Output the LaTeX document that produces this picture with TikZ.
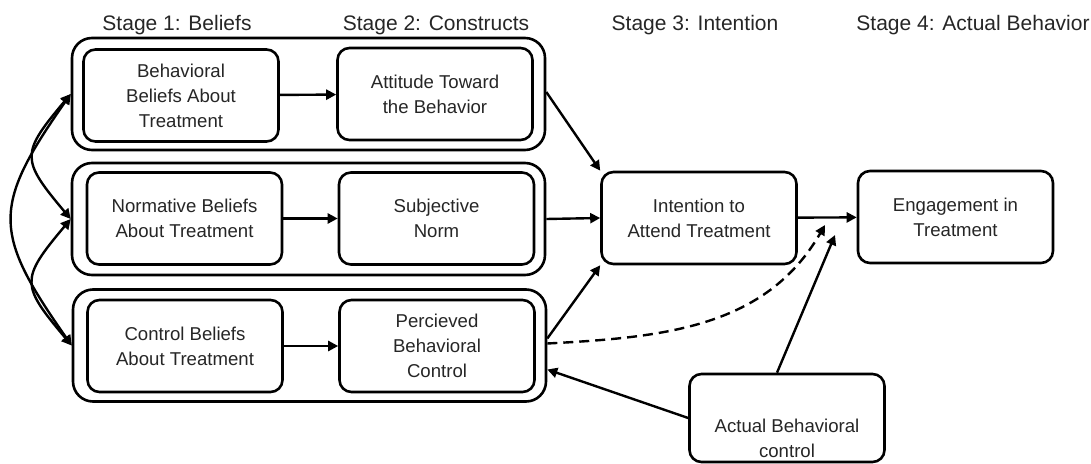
\documentclass[tikz,border=0pt]{standalone}
\usepackage{fontspec}
\setmainfont{Liberation Sans}
\usetikzlibrary{arrows.meta}
\tikzset{
    grp/.style={draw, line width=1.3pt, rounded corners=10pt,
        minimum width=236.5pt, minimum height=56pt, inner sep=0pt},
    boxtxt/.style={align=center, text=black!85,
        font=\fontsize{9.3}{12.5}\selectfont},
    box/.style={draw, fill=white, line width=1.3pt, rounded corners=6pt,
        minimum width=97.5pt, minimum height=46pt, inner sep=0pt, boxtxt},
    stage/.style={anchor=base, text=black!85,
        font=\fontsize{10.5}{12}\selectfont},
    arr/.style={line width=1.2pt, -{Triangle[length=5pt,width=5pt]}},
    dbl/.style={line width=1.2pt,
        {Triangle[length=5pt,width=5pt]}-{Triangle[length=5pt,width=5pt]}},
}
\begin{document}
\begin{tikzpicture}[x=0.5pt,y=0.5pt]
                \useasboundingbox (0,0) rectangle (1091,-464);
                % stage headings
                \node[stage] (s1) at (177,-31) {Stage 1: Beliefs};
                \node[stage] (s2) at (436,-31) {Stage 2: Constructs};
                \node[stage] (s3) at (695,-31) {Stage 3: Intention};
                \node[stage] (s4) at (973,-31) {Stage 4: Actual Behavior};
                % the three belief/construct rows
                \node[grp] (topgrp) at (308.5,-94) {};
                \node[grp] (midgrp) at (308.5,-219) {};
                \node[grp] (botgrp) at (309.5,-345.5) {};
                \node[box] (behav) at (181,-95.5) {Behavioral\\Beliefs About\\Treatment};
                \node[box] (attit) at (435,-94) {Attitude Toward\\the Behavior};
                \node[box] (norm) at (184.5,-218.5) {Normative Beliefs\\About Treatment};
                \node[box] (subj) at (436.5,-218.5) {Subjective\\Norm};
                \node[box] (ctrl) at (185,-346) {Control Beliefs\\About Treatment};
                \node[box] (perc) at (437,-346) {Percieved\\Behavioral\\Control};
                % intention, behaviour, actual control
                \node[box] (intent) at (699,-218) {Intention to\\Attend Treatment};
                \node[box] (engage) at (955.5,-217) {Engagement in\\Treatment};
                \node[box, minimum height=44pt,
                    label={[boxtxt, yshift=-10pt]center:Actual Behavioral\\control}]
                    (actual) at (787,-418) {};
                \coordinate (dtip) at (825,-225);
                \coordinate (stip) at (835,-235);
                % arrows
                \foreach \a/\b in {behav/attit, norm/subj, ctrl/perc} {
                    \draw[arr] (\a) -- (\b);
                }
                \draw[arr] ([yshift=1pt]topgrp.east) -- (intent.north west);
                \draw[arr] (midgrp.east) -- (intent.west);
                \draw[arr] ([yshift=3.5pt]botgrp.east) -- (intent.south west);
                \draw[arr] (intent) -- (engage);
                \draw[arr, dash pattern=on 5pt off 3pt] ([yshift=1pt]botgrp.east)
                    to[out=3,in=240] (dtip);
                \draw[arr] ([xshift=-5pt]actual.north) -- (stip);
                \draw[arr] (actual.west) -- ([yshift=-12pt]botgrp.east);
                % correlations between the beliefs
                \draw[dbl] (topgrp.west) to[out=230,in=130,looseness=1.6] (midgrp.west);
                \draw[dbl] (midgrp.west) to[out=230,in=130,looseness=1.6] (botgrp.west);
                \draw[dbl] (topgrp.west) to[out=235,in=125,looseness=1.4] (botgrp.west);
            \end{tikzpicture}
\end{document}
